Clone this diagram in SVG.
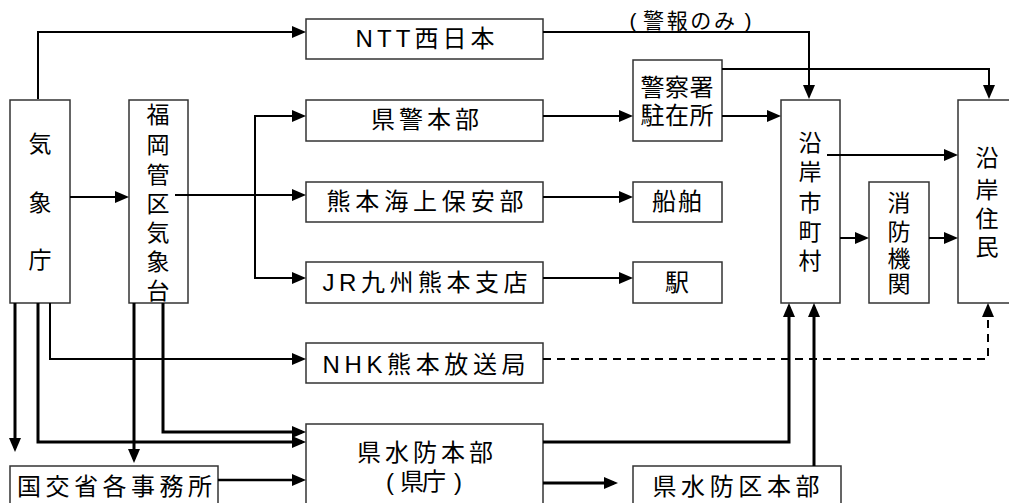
<svg xmlns="http://www.w3.org/2000/svg" width="1009" height="503" viewBox="0 0 1009 503">
<style>
.b{fill:#fff;stroke:#333;stroke-width:1.5}
.t{font-family:"Liberation Sans","Noto Sans CJK JP",sans-serif;font-size:24px;fill:#000;text-anchor:middle}
.v{font-size:23px}
.s{font-size:21px}
.c{fill:none;stroke:#000;stroke-width:2}
.k{stroke-width:3}
.d{stroke-dasharray:8 6}
</style>
<defs>
<marker id="a" markerUnits="userSpaceOnUse" markerWidth="14" markerHeight="12" refX="10" refY="6" orient="auto">
<path d="M0,0 L14,6 L0,12 z" fill="#000"/>
</marker>
</defs>
<rect width="1009" height="503" fill="#fff"/>
<g id="kishocho">
<rect class="b" x="10" y="100" width="60" height="203"/>
<text class="t v" x="40" y="152">気</text>
<text class="t v" x="40" y="211">象</text>
<text class="t v" x="40" y="268">庁</text>
</g>
<g id="fukuoka">
<rect class="b" x="129" y="100" width="59" height="203"/>
<text class="t v" x="158" y="123">福</text>
<text class="t v" x="158" y="153">岡</text>
<text class="t v" x="158" y="183">管</text>
<text class="t v" x="158" y="212">区</text>
<text class="t v" x="158" y="241">気</text>
<text class="t v" x="158" y="270">象</text>
<text class="t v" x="158" y="299">台</text>
</g>
<g id="ntt">
<rect class="b" x="306" y="19" width="237" height="40"/>
<text class="t" x="425" y="47" textLength="139">NTT西日本</text>
</g>
<g id="kenkei">
<rect class="b" x="306" y="100" width="237" height="41"/>
<text class="t" x="425" y="128" textLength="108">県警本部</text>
</g>
<g id="kaiho">
<rect class="b" x="306" y="182" width="237" height="40"/>
<text class="t" x="425" y="210" textLength="197">熊本海上保安部</text>
</g>
<g id="jr">
<rect class="b" x="306" y="262" width="237" height="41"/>
<text class="t" x="425" y="291" textLength="205">JR九州熊本支店</text>
</g>
<g id="nhk">
<rect class="b" x="306" y="343" width="237" height="40"/>
<text class="t" x="424" y="373" textLength="203">NHK熊本放送局</text>
</g>
<g id="suibo">
<rect class="b" x="306" y="424" width="237" height="90"/>
<text class="t" x="425" y="461" textLength="136">県水防本部</text>
<text class="t" x="390" y="490">(</text>
<text class="t" x="423" y="490" textLength="46">県庁</text>
<text class="t" x="458" y="490">)</text>
</g>
<g id="kokko">
<rect class="b" x="10" y="466" width="208" height="48"/>
<text class="t" x="114.5" y="495" textLength="195">国交省各事務所</text>
</g>
<g id="keisatsu">
<rect class="b" x="633" y="60" width="89" height="81"/>
<text class="t" x="677" y="96" textLength="73">警察署</text>
<text class="t" x="677" y="124" textLength="73">駐在所</text>
</g>
<g id="senpaku">
<rect class="b" x="633" y="182" width="89" height="40"/>
<text class="t" x="677" y="210" textLength="50">船舶</text>
</g>
<g id="eki">
<rect class="b" x="633" y="262" width="89" height="41"/>
<text class="t" x="677" y="291">駅</text>
</g>
<g id="kubu">
<rect class="b" x="633" y="466" width="208" height="48"/>
<text class="t" x="736" y="495" textLength="167">県水防区本部</text>
</g>
<g id="shichoson">
<rect class="b" x="781" y="100" width="59" height="203"/>
<text class="t v" x="810" y="151">沿</text>
<text class="t v" x="810" y="180">岸</text>
<text class="t v" x="810" y="211">市</text>
<text class="t v" x="810" y="240">町</text>
<text class="t v" x="810" y="269">村</text>
</g>
<g id="shobo">
<rect class="b" x="869" y="182" width="60" height="121"/>
<text class="t v" x="899" y="211">消</text>
<text class="t v" x="899" y="240">防</text>
<text class="t v" x="899" y="267">機</text>
<text class="t v" x="899" y="292">関</text>
</g>
<g id="jumin">
<rect class="b" x="958" y="100" width="60" height="203"/>
<text class="t v" x="987" y="166">沿</text>
<text class="t v" x="987" y="198">岸</text>
<text class="t v" x="987" y="227">住</text>
<text class="t v" x="987" y="255">民</text>
</g>
<g id="connectors">
<path class="c" d="M38,99 V32 H302" marker-end="url(#a)"/>
<path class="c" d="M70,197 H125" marker-end="url(#a)"/>
<path class="c" d="M175,195 H302" marker-end="url(#a)"/>
<path class="c" d="M255,195 V116 H302" marker-end="url(#a)"/>
<path class="c" d="M255,195 V278 H302" marker-end="url(#a)"/>
<path class="c" d="M543,116 H629" marker-end="url(#a)"/>
<path class="c" d="M543,197 H629" marker-end="url(#a)"/>
<path class="c" d="M543,278 H629" marker-end="url(#a)"/>
<path class="c" d="M543,32 H809 V95" marker-end="url(#a)"/>
<path class="c" d="M722,116 H777" marker-end="url(#a)"/>
<path class="c" d="M722,69 H989 V95" marker-end="url(#a)"/>
<path class="c" d="M827,155 H954" marker-end="url(#a)"/>
<path class="c" d="M840,238 H865" marker-end="url(#a)"/>
<path class="c" d="M929,238 H954" marker-end="url(#a)"/>
<path class="c d" d="M543,359 H988 V307" marker-end="url(#a)"/>
<path class="c k" d="M15,303 V448" marker-end="url(#a)"/>
<path class="c k" d="M38,303 V442 H302" marker-end="url(#a)"/>
<path class="c" d="M50,303 V359 H302" marker-end="url(#a)"/>
<path class="c k" d="M134,303 V459" marker-end="url(#a)"/>
<path class="c k" d="M163,303 V432 H302" marker-end="url(#a)"/>
<path class="c" style="stroke-width:2.5" d="M218,480 H302" marker-end="url(#a)"/>
<path class="c k" d="M543,442 H789 V307" marker-end="url(#a)"/>
<path class="c k" d="M543,483 H614" marker-end="url(#a)"/>
<path class="c k" d="M814,466 V307" marker-end="url(#a)"/>
<text class="t s" x="633" y="28">(</text>
<text class="t s" x="689" y="28" textLength="92">警報のみ</text>
<text class="t s" x="748" y="28">)</text>
</g>
</svg>
